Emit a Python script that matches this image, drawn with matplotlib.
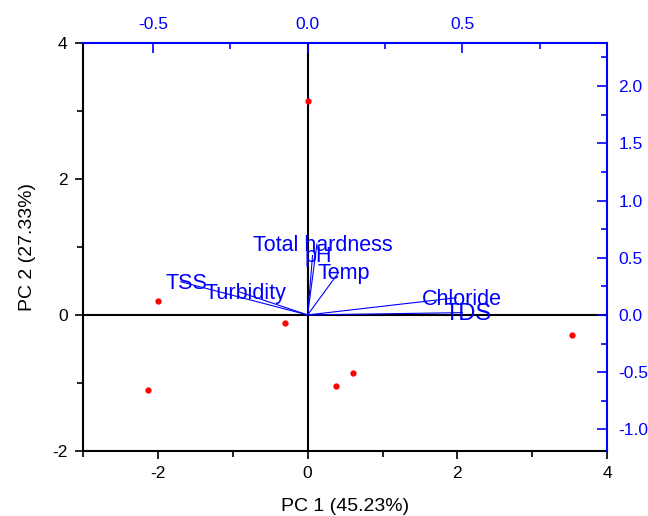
import matplotlib
matplotlib.use("Agg")
import matplotlib.pyplot as plt
from matplotlib.ticker import MultipleLocator

plt.rcParams["font.family"] = ["Liberation Sans", "DejaVu Sans"]
plt.rcParams["axes.unicode_minus"] = False

# scores (PC1, PC2)
score_pc1 = [0.0, -2.0, -0.3, -2.13, 0.38, 0.6, 3.53]
score_pc2 = [3.15, 0.2, -0.12, -1.1, -1.05, -0.85, -0.3]

# loadings (top / right axes)
variables = ["Total hardness", "pH", "Temp", "TSS", "Turbidity", "Chloride", "TDS"]
load_pc1 = [0.03, 0.016, 0.1, -0.41, -0.22, 0.48, 0.5]
load_pc2 = [0.62, 0.52, 0.37, 0.29, 0.2, 0.15, 0.02]

fig = plt.figure(figsize=(6.48, 5.16), dpi=100)
rect = [0.128, 0.126, 0.809, 0.791]
ax = fig.add_axes(rect)

ax.axhline(0, color="black", lw=1.5, zorder=1)
ax.axvline(0, color="black", lw=1.5, zorder=1)
ax.plot(score_pc1, score_pc2, "o", color="red", ms=3.5, zorder=3)

ax.set_xlim(-3, 4)
ax.set_ylim(-2, 4)
ax.xaxis.set_major_locator(MultipleLocator(2))
ax.xaxis.set_minor_locator(MultipleLocator(1))
ax.yaxis.set_major_locator(MultipleLocator(2))
ax.yaxis.set_minor_locator(MultipleLocator(1))
ax.tick_params(which="both", direction="out", labelsize=12.5, width=1.2)
ax.tick_params(which="major", length=6, pad=5)
ax.tick_params(which="minor", length=4)
ax.spines["top"].set_visible(False)
ax.spines["right"].set_visible(False)
for s in ["left", "bottom"]:
    ax.spines[s].set_linewidth(1.5)
ax.set_xlabel("PC 1 (45.23%)", fontsize=14, labelpad=12)
ax.set_ylabel("PC 2 (27.33%)", fontsize=14, labelpad=12)

# loading axes on top and right
av = fig.add_axes(rect, frameon=False)
av.set_xlim(-0.726, 0.968)
av.set_ylim(-1.189, 2.378)
av.patch.set_visible(False)
av.xaxis.tick_top()
av.yaxis.tick_right()
av.xaxis.set_major_locator(MultipleLocator(0.5))
av.xaxis.set_minor_locator(MultipleLocator(0.25))
av.yaxis.set_major_locator(MultipleLocator(0.5))
av.yaxis.set_minor_locator(MultipleLocator(0.25))
av.tick_params(which="both", direction="in", colors="blue", labelsize=12.5, width=1.2)
av.tick_params(which="major", length=7, pad=8)
av.tick_params(which="minor", length=4)
av.set_frame_on(True)
av.spines["left"].set_visible(False)
av.spines["bottom"].set_visible(False)
for s in ["top", "right"]:
    av.spines[s].set_color("blue")
    av.spines[s].set_linewidth(1.5)

for name, lx, ly in zip(variables, load_pc1, load_pc2):
    av.plot([0, lx], [0, ly], color="blue", lw=0.8)
    size = 17 if name == "TDS" else 15.5
    av.annotate(name, (lx, ly), xytext=(4, -1), textcoords="offset points",
                color="blue", fontsize=size, ha="center", va="center")

fig.savefig("out.png", dpi=100)
